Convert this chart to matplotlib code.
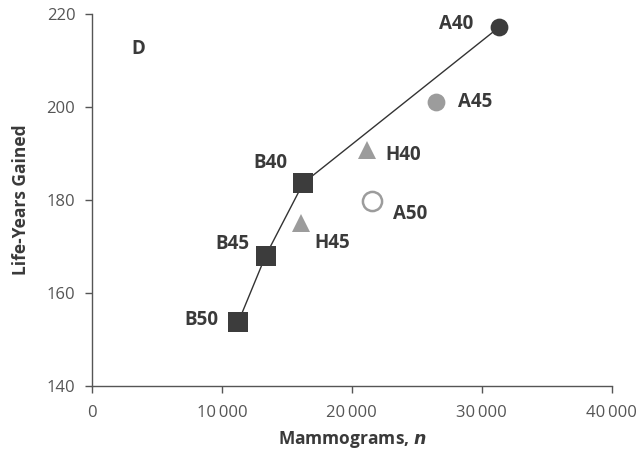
import matplotlib
matplotlib.use("Agg")
import matplotlib.pyplot as plt

plt.rcParams['font.family'] = ['Open Sans', 'DejaVu Sans']

# ---- data ----
# frontier strategies (biennial B, annual A40) connected by line
frontier_labels = ['B50', 'B45', 'B40', 'A40']
frontier_x = [11260, 13370, 16260, 31350]
frontier_y = [153.7, 168.0, 183.6, 217.2]

annual_labels = ['A45']
annual_x = [26480]
annual_y = [201.0]

annual_open_labels = ['A50']
annual_open_x = [21570]
annual_open_y = [179.8]

hybrid_labels = ['H40', 'H45']
hybrid_x = [21140, 16090]
hybrid_y = [190.8, 175.0]

x_ticks = [0, 10000, 20000, 30000, 40000]
x_ticklabels = ['0', '10\u2009000', '20\u2009000', '30\u2009000', '40\u2009000']
y_ticks = [140, 160, 180, 200, 220]

DARK = '#3c3c3c'
GRAY = '#9c9c9c'
TXT = '#3a3a3a'

fig = plt.figure(figsize=(6.39, 4.55), dpi=100)
ax = fig.add_axes([92/639, 1-385.7/455, (611.7-92)/639, (385.7-14)/455])

# frontier line
ax.plot(frontier_x, frontier_y, color='#333333', lw=1.0, zorder=1)

# squares for B strategies
ax.plot(frontier_x[:3], frontier_y[:3], ls='none', marker='s', ms=13.7,
        mfc=DARK, mec=DARK, mew=0, zorder=3)
# dark circle A40
ax.plot(frontier_x[3:], frontier_y[3:], ls='none', marker='o', ms=12.8,
        mfc=DARK, mec=DARK, mew=0, zorder=3)
# gray circle A45
ax.plot(annual_x, annual_y, ls='none', marker='o', ms=12.8,
        mfc=GRAY, mec=GRAY, mew=0, zorder=3)
# open circle A50
ax.plot(annual_open_x, annual_open_y, ls='none', marker='o', ms=13.8,
        mfc='white', mec=GRAY, mew=1.8, zorder=3)
# triangles H
ax.plot(hybrid_x, hybrid_y, ls='none', marker='^', ms=12.7,
        mfc=GRAY, mec=GRAY, mew=0, zorder=3)

# point labels (offsets in pixels)
offsets = {
    'A40': (-43, 3), 'A45': (39, 0), 'A50': (38, -13),
    'B40': (-33, 20), 'B45': (-33, 12), 'B50': (-37, 2),
    'H40': (37, -5), 'H45': (31, -20),
}
all_pts = (list(zip(frontier_labels, frontier_x, frontier_y)) +
           list(zip(annual_labels, annual_x, annual_y)) +
           list(zip(annual_open_labels, annual_open_x, annual_open_y)) +
           list(zip(hybrid_labels, hybrid_x, hybrid_y)))
for lab, xv, yv in all_pts:
    dx, dy = offsets[lab]
    ax.annotate(lab, (xv, yv), xytext=(dx, dy), textcoords='offset pixels',
                ha='center', va='center', fontsize=13.5, fontweight='bold',
                color=TXT)

# panel label
ax.text(0.0885, 0.906, 'D', transform=ax.transAxes, ha='center', va='center',
        fontsize=13.5, fontweight='bold', color=TXT)

ax.set_xlim(0, 40000)
ax.set_ylim(140, 220)
ax.set_xticks(x_ticks)
ax.set_xticklabels(x_ticklabels)
ax.set_yticks(y_ticks)

for s in ['top', 'right']:
    ax.spines[s].set_visible(False)
for s in ['left', 'bottom']:
    ax.spines[s].set_color('#555555')
    ax.spines[s].set_linewidth(1.0)

ax.tick_params(axis='both', direction='out', length=5, width=1.0,
               color='#555555', labelcolor='#555555', labelsize=12)
ax.tick_params(axis='x', pad=9)
ax.tick_params(axis='y', pad=7)

ax.set_xlabel(r'Mammograms, $\boldsymbol{n}$', fontsize=12.5, fontweight='bold',
              color=TXT, labelpad=6)
ax.set_ylabel('Life-Years Gained', fontsize=12.5, fontweight='bold', color=TXT,
              labelpad=12)

fig.savefig('out.png', dpi=100)
